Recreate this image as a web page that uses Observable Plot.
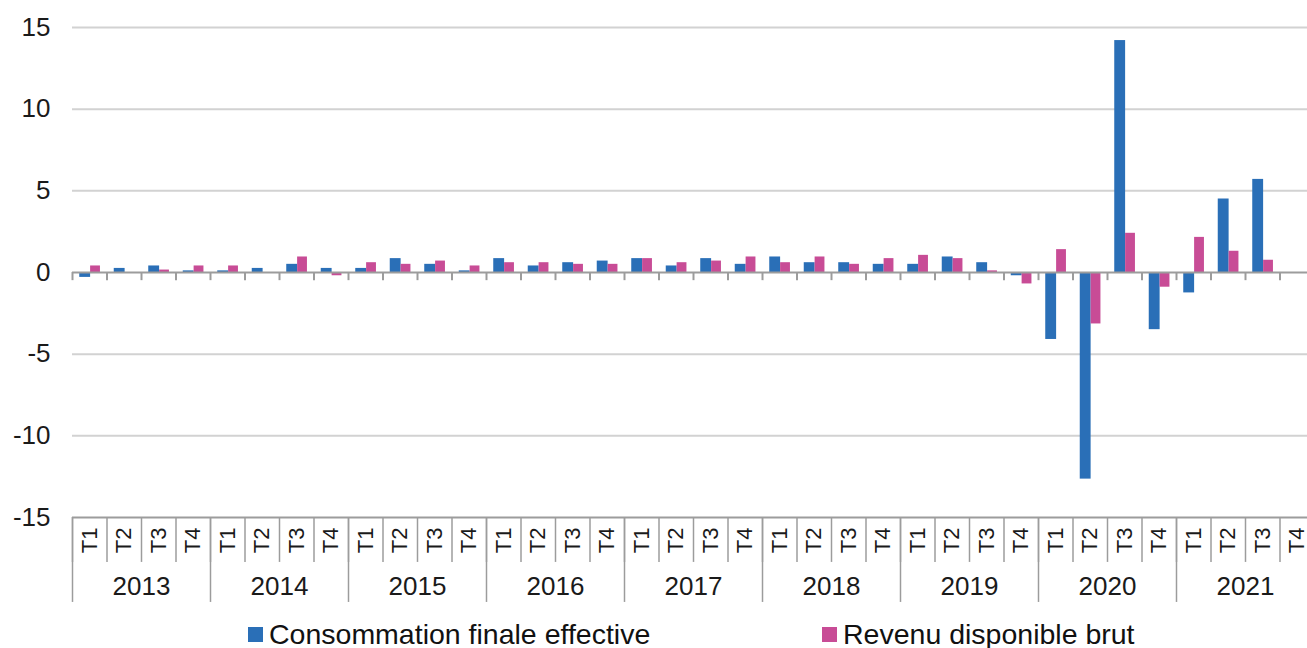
<!DOCTYPE html>
<html><head><meta charset="utf-8">
<script src="https://cdn.jsdelivr.net/npm/d3@7"></script>
<script src="https://cdn.jsdelivr.net/npm/@observablehq/plot@0.6"></script>
<style>
html,body{margin:0;padding:0;background:#fff;overflow:hidden;width:1307px;height:648px}
#chart svg{max-width:none!important;display:block}
#legend{position:relative;height:36px;font-family:"Liberation Sans",Arial,sans-serif;font-size:28.5px;color:#111}
.item{position:absolute;top:6px;display:flex;align-items:center;white-space:nowrap;line-height:32px}
.sw{width:15px;height:15px;display:inline-block;margin-right:6px}
</style></head><body>
<div id="chart"></div>
<div id="legend"></div>
<script>
const years = [2013, 2014, 2015, 2016, 2017, 2018, 2019, 2020, 2021];
const quarters = ["T1", "T2", "T3", "T4"];
const yTicks = [-15, -10, -5, 0, 5, 10, 15];
const seriesNames = ["Consommation finale effective", "Revenu disponible brut"];
const seriesColors = ["#2a6fb7", "#c84c96"];
// quarterly values, 2013 T1 ... 2021 T4
const consommation = [
  -0.3, 0.25, 0.4, 0.1,
  0.1, 0.25, 0.5, 0.25,
  0.25, 0.85, 0.5, 0.1,
  0.85, 0.4, 0.6, 0.7,
  0.85, 0.4, 0.85, 0.5,
  0.95, 0.6, 0.6, 0.5,
  0.5, 0.95, 0.6, -0.2,
  -4.1, -12.65, 14.2, -3.5,
  -1.25, 4.5, 5.7, null
];
const revenu = [
  0.4, 0, 0.15, 0.4,
  0.4, 0, 0.95, -0.2,
  0.6, 0.5, 0.7, 0.4,
  0.6, 0.6, 0.5, 0.5,
  0.85, 0.6, 0.7, 0.95,
  0.6, 0.95, 0.5, 0.85,
  1.05, 0.85, 0.1, -0.7,
  1.4, -3.15, 2.4, -0.9,
  2.15, 1.3, 0.75, null
];

const rows = [];
years.forEach((y, yi) => quarters.forEach((q, qi) => {
  const i = yi * 4 + qi;
  rows.push({i, year: y, q, conso: consommation[i], rev: revenu[i]});
}));
const boundaries = d3.range(0, rows.length + 1);
const yearBounds = years.map((y, yi) => yi * 4).concat([years.length * 4]);
const font = '"Liberation Sans", Arial, sans-serif';
const gray = "#9c9c9c";

const chart = Plot.plot({
  width: 1314, height: 612,
  marginLeft: 72, marginRight: 0, marginTop: 27, marginBottom: 95,
  style: {fontFamily: font, background: "#fff", overflow: "visible"},
  x: {domain: [0, rows.length], axis: null},
  y: {domain: [-15, 15]},
  marks: [
    Plot.ruleY(yTicks.filter(d => d !== 0 && d !== -15), {stroke: "#d2d2d2", strokeWidth: 2}),
    Plot.rectY(rows.filter(d => d.conso != null), {x1: d => d.i + 0.21, x2: d => d.i + 0.525, y1: 0, y2: d => d.conso, fill: seriesColors[0]}),
    Plot.rectY(rows.filter(d => d.rev != null), {x1: d => d.i + 0.525, x2: d => d.i + 0.81, y1: 0, y2: d => d.rev, fill: seriesColors[1]}),
    Plot.ruleY([0], {stroke: gray, strokeWidth: 2}),
    Plot.ruleX(boundaries, {x: d => d, y1: 0, y2: -0.5, stroke: gray, strokeWidth: 2}),
    Plot.ruleY([-15], {stroke: gray, strokeWidth: 2}),
    Plot.ruleX(boundaries, {x: d => d, y1: -15, y2: -17.75, stroke: gray, strokeWidth: 1.5}),
    Plot.ruleX(yearBounds, {x: d => d, y1: -15, y2: -20.2, stroke: gray, strokeWidth: 1.5}),
    Plot.text(rows, {x: d => d.i + 0.5, y: -16.4, text: d => d.q, rotate: -90, fontSize: 22, fill: "#1a1a1a"}),
    Plot.text(years, {x: (d, i) => i * 4 + 2, y: -19.25, text: d => String(d), fontSize: 26, fill: "#1a1a1a"}),
    Plot.axisY({ticks: yTicks, tickSize: 0, tickPadding: 22, fontSize: 26, fill: "#1a1a1a", tickFormat: d => String(d), label: null})
  ]
});
document.getElementById("chart").appendChild(chart);

const legend = document.getElementById("legend");
const lx = [248, 822];
seriesNames.forEach((name, k) => {
  const it = document.createElement("div");
  it.className = "item";
  it.style.left = lx[k] + "px";
  const sw = document.createElement("span");
  sw.className = "sw";
  sw.style.background = seriesColors[k];
  it.appendChild(sw);
  it.appendChild(document.createTextNode(name));
  legend.appendChild(it);
});
</script>
</body></html>
